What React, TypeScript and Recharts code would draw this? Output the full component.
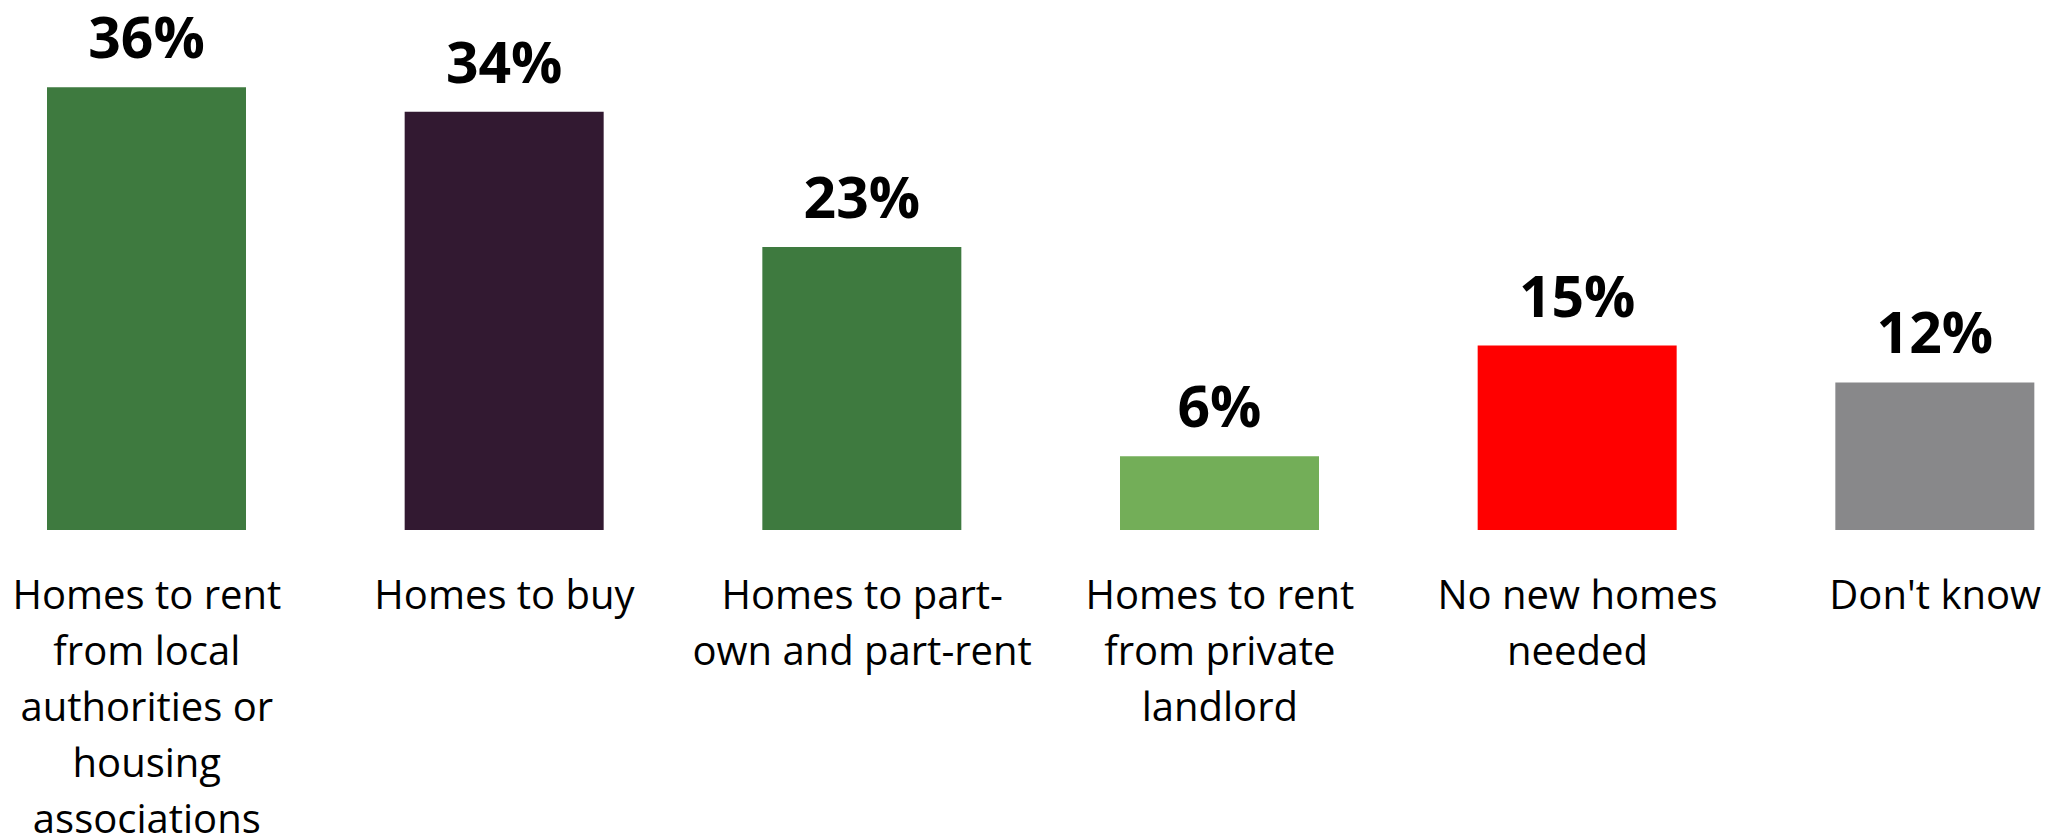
import { BarChart, Bar, XAxis, YAxis, Cell, LabelList } from "recharts"

// Survey: which kind of new homes are needed locally (% of respondents)
const categories = [
  "Homes to rent from local authorities or housing associations",
  "Homes to buy",
  "Homes to part-own and part-rent",
  "Homes to rent from private landlord",
  "No new homes needed",
  "Don't know",
]
const shares = [36, 34, 23, 6, 15, 12]
const barColors = ["#3E7A3F", "#321931", "#3E7A3F", "#73AE58", "#FF0000", "#88888A"]

const data = categories.map((name, i) => ({ name, value: shares[i] }))

const FONT = '"Open Sans", "Segoe UI", sans-serif'
const TICK_FONT_SIZE = 40
const WRAP_WIDTH = 345

let ctx: CanvasRenderingContext2D | null = null
function measure(s: string) {
  if (!ctx) ctx = document.createElement("canvas").getContext("2d")
  if (!ctx) return s.length * TICK_FONT_SIZE * 0.55
  ctx.font = `${TICK_FONT_SIZE}px ${FONT}`
  return ctx.measureText(s).width
}

// word wrap that may also break after a hyphen, like Office does
function wrap(label: string) {
  const parts = label.match(/[^\s-]+-?|\s+/g) ?? [label]
  const lines: string[] = []
  let cur = ""
  for (const p of parts) {
    const next = cur + p
    if (cur.trim() && measure(next.trimEnd()) > WRAP_WIDTH) {
      lines.push(cur.trim())
      cur = p.trimStart()
    } else {
      cur = next
    }
  }
  if (cur.trim()) lines.push(cur.trim())
  return lines
}

function CategoryTick(props: any) {
  const { x, y, payload } = props
  const lines = wrap(String(payload.value))
  return (
    <text x={x} y={y} textAnchor="middle" fontFamily={FONT} fontSize={TICK_FONT_SIZE} fill="#000">
      {lines.map((l, i) => (
        <tspan key={i} x={x} dy={i === 0 ? 79 : 56}>
          {l}
        </tspan>
      ))}
    </text>
  )
}

function ValueLabel(props: any) {
  const { x, y, width, value } = props
  return (
    <text
      x={x + width / 2}
      y={y - 29}
      textAnchor="middle"
      fontFamily={FONT}
      fontWeight={700}
      fontSize={57}
      fill="#000"
    >
      {value}%
    </text>
  )
}

export default function App() {
  return (
    <div
      style={{
        position: "absolute",
        left: 0,
        top: 0,
        width: 2067,
        height: 838,
        overflow: "hidden",
        background: "#fff",
      }}
    >
      <div style={{ position: "absolute", left: -32, top: 0 }}>
        <BarChart
          width={2146}
          height={838}
          data={data}
          margin={{ top: 38, right: 0, left: 0, bottom: 0 }}
        >
          <XAxis
            dataKey="name"
            axisLine={false}
            tickLine={false}
            tickSize={0}
            tickMargin={0}
            height={308}
            interval={0}
            tick={<CategoryTick />}
          />
          <YAxis hide domain={[0, 40]} />
          <Bar dataKey="value" barSize={199} isAnimationActive={false}>
            {data.map((_, i) => (
              <Cell key={i} fill={barColors[i]} />
            ))}
            <LabelList dataKey="value" content={<ValueLabel />} />
          </Bar>
        </BarChart>
      </div>
    </div>
  )
}
